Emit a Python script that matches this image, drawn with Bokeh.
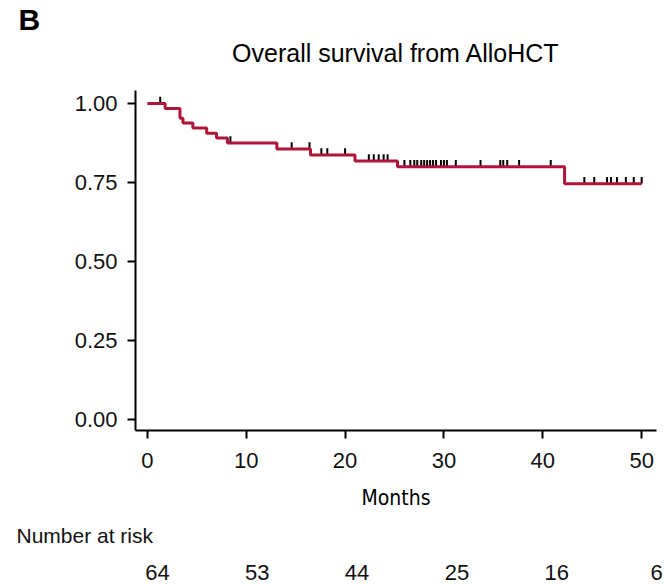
from bokeh.plotting import figure
from bokeh.models import Range1d, FixedTicker, Title, LinearAxis, NumeralTickFormatter
from bokeh.embed import file_html
from bokeh.resources import INLINE
import numpy as np

# ---- data ----
step_times = [0, 1.8, 3.3, 3.6, 4.6, 6.0, 7.0, 8.1, 13.1, 16.5, 21.0, 25.3, 42.2, 50.0]
step_surv = [1.0, 0.984, 0.953, 0.938, 0.922, 0.906, 0.891, 0.875, 0.856, 0.837, 0.818, 0.800, 0.746, 0.746]
censor_times = [1.3, 8.4, 14.6, 16.4, 17.6, 18.2, 20.0, 22.4, 22.9, 23.4, 23.9, 24.3,
                26.0, 26.6, 27.0, 27.3, 27.7, 28.0, 28.3, 28.6, 28.9, 29.2, 29.7, 30.0,
                30.3, 31.2, 33.7, 35.7, 36.0, 36.4, 37.6, 40.8, 44.2, 45.2, 46.5, 46.9,
                47.5, 48.4, 49.2, 50.0]
x_ticks = [0, 10, 20, 30, 40, 50]
y_ticks = [0.0, 0.25, 0.50, 0.75, 1.00]
risk_times = [0, 10, 20, 30, 40, 50]
risk_counts = ["64", "53", "44", "25", "16", "6"]

LINE = "#AE1538"
FONT = "Liberation Sans"
COND = "'Liberation Sans Narrow', 'DejaVu Sans Condensed', sans-serif"

# survival value at each censoring time (right-continuous step)
st = np.array(step_times)
ss = np.array(step_surv)
idx = np.searchsorted(st, np.array(censor_times), side="right") - 1
cens_y = ss[idx]

p = figure(width=664, height=584, x_range=Range1d(-1.2, 51.5), y_range=Range1d(-0.035, 1.041),
           output_backend="svg", toolbar_location=None,
           min_border_left=135, min_border_right=8, min_border_top=88, min_border_bottom=154)
p.outline_line_color = None
p.grid.visible = False
p.background_fill_color = "white"
p.border_fill_color = "white"

xax = p.xaxis[0]
yax = p.yaxis[0]

# outer title: panel letter
p.title.text = "B"
p.title.align = "left"
p.title.offset = -117
p.title.text_font = FONT
p.title.text_font_size = "30px"
p.title.text_font_style = "bold"
p.title.text_color = "black"
p.title.standoff = 0

# censor marks
p.segment(x0=censor_times, y0=cens_y, x1=censor_times, y1=cens_y + 0.021,
          line_color="black", line_width=2)
# KM step curve
p.step(x=step_times, y=step_surv, mode="after", line_color=LINE, line_width=3)

for ax in (xax, yax):
    ax.axis_line_width = 2
    ax.axis_line_color = "black"
    ax.major_tick_line_width = 2
    ax.major_tick_line_color = "black"
    ax.major_tick_out = 8
    ax.major_tick_in = 0
    ax.minor_tick_line_color = None
    ax.major_label_text_font = FONT
    ax.major_label_text_font_size = "22px"
    ax.major_label_text_color = "#111111"

yax.major_label_standoff = 10
yax.ticker = FixedTicker(ticks=y_ticks)
yax.formatter = NumeralTickFormatter(format="0.00")
xax.major_label_standoff = 14
xax.ticker = FixedTicker(ticks=x_ticks)
xax.axis_label = "Months"
xax.axis_label_text_font = COND
xax.axis_label_text_font_size = "21px"
xax.axis_label_text_font_style = "normal"
xax.axis_label_text_color = "black"
xax.axis_label_standoff = 15

# chart title, carried by a tick-less axis above the frame
title_axis = LinearAxis(ticker=FixedTicker(ticks=[]), axis_line_color=None,
                        major_tick_line_color=None, minor_tick_line_color=None,
                        major_tick_out=0, major_tick_in=0, minor_tick_out=0, minor_tick_in=0,
                        axis_label="Overall survival from AlloHCT", axis_label_text_font=FONT,
                        axis_label_text_font_size="25px", axis_label_text_font_style="normal",
                        axis_label_text_color="black", axis_label_standoff=24)
p.add_layout(title_axis, "above")

# ---- number at risk table: heading + an axis on its own horizontal scale ----
p.add_layout(Title(text="Number at risk", align="left", offset=-119, text_font=FONT,
                   text_font_size="21px", text_font_style="normal", text_color="#111111",
                   standoff=18), "below")

p.extra_x_ranges = {"risk": Range1d(-2.204, 50.0001)}
risk_axis = LinearAxis(x_range_name="risk", ticker=FixedTicker(ticks=risk_times),
                       major_label_overrides={t: c for t, c in zip(risk_times, risk_counts)},
                       axis_line_color=None, major_tick_line_color=None, minor_tick_line_color=None,
                       major_tick_out=0, major_tick_in=0, minor_tick_out=0, minor_tick_in=0,
                       major_label_standoff=9,
                       major_label_text_font=FONT, major_label_text_font_size="22px",
                       major_label_text_color="#111111")
p.add_layout(risk_axis, "below")

html = file_html(p, INLINE)
html = html.replace("</head>", "<style>html,body{overflow:hidden;}</style></head>")
open("out.html", "w").write(html)
